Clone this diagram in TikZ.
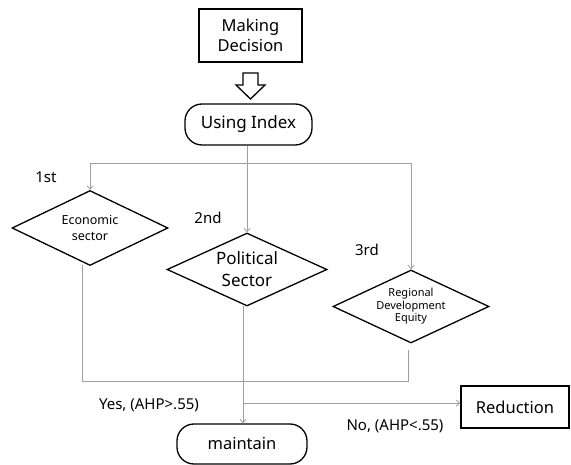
\documentclass[tikz,border=0pt]{standalone}
\usepackage{fontspec}
\setmainfont{Noto Sans}
\usetikzlibrary{shapes.geometric,arrows.meta,calc}
\begin{document}
\begin{tikzpicture}[x=1pt,y=-1pt,
  box/.style={draw=black,line width=1.3pt,inner sep=0pt,align=center},
  term/.style={draw=black,line width=1.3pt,rounded corners=17pt,inner sep=0pt,align=center},
  dia/.style={draw=black,line width=1.3pt,diamond,inner sep=0pt,align=center},
  conn/.style={draw=gray!75,line width=0.8pt},
  arr/.style={conn,-{Straight Barb[length=3.5pt,width=6pt]}},
  lab/.style={inner sep=0pt,align=center,font=\fontsize{15}{17}\selectfont}]
\useasboundingbox (0,0) rectangle (571,465);
% nodes
\node[box,minimum width=103pt,minimum height=53pt,font=\fontsize{16.5}{20}\selectfont] (md) at (250.5,35.5) {Making\\Decision};
\node[term,minimum width=127pt,minimum height=41pt,font=\fontsize{17}{20}\selectfont] (ui) at (248.5,124.5) {Using Index};
\node[dia,minimum width=156pt,minimum height=75pt,aspect=2.08,font=\fontsize{12.5}{16.5}\selectfont] (eco) at (90,228) {Economic\\sector};
\node[dia,minimum width=160pt,minimum height=73pt,aspect=2.19,font=\fontsize{17}{22}\selectfont] (pol) at (247,269.5) {Political\\Sector};
\node[dia,minimum width=156pt,minimum height=73pt,aspect=2.14,font=\fontsize{11}{12.5}\selectfont] (reg) at (411,306.5) {Regional\\Development\\Equity};
\node[box,minimum width=108pt,minimum height=42pt,font=\fontsize{16.5}{20}\selectfont] (red) at (515,407) {Reduction};
\node[term,minimum width=130pt,minimum height=40pt,font=\fontsize{16.5}{20}\selectfont] (mt) at (242,444) {maintain};
% labels
\node[lab] (l1) at (46,177) {1st};
\node[lab] (l2) at (208,218) {2nd};
\node[lab] (l3) at (367,250) {3rd};
\node[lab] (ly) at (149,405) {Yes, (AHP>.55)};
\node[lab] (ln) at (395,426) {No, (AHP<.55)};
% hollow arrow
\draw[black,line width=1.3pt,line join=miter] (243,73) -- (258,73) -- (258,85) -- (265,85) -- (250.5,99) -- (236,85) -- (243,85) -- cycle;
% connectors
\coordinate (br) at (247,163);
\draw[arr] (ui.south -| br) -- (pol.north -| br);
\draw[arr] (br) -| (eco.north);
\draw[arr] (br) -| (reg.north);
\coordinate (jl) at (82,381);
\coordinate (jr) at (408,381);
\draw[conn] (82,265) -- (jl) -- (jr) -- (408,350);
\coordinate (jp) at (243,403);
\draw[arr] (243,306) -- (mt.north -| jp);
\draw[arr] (jp) -- (jp -| red.west);
\end{tikzpicture}
\end{document}
